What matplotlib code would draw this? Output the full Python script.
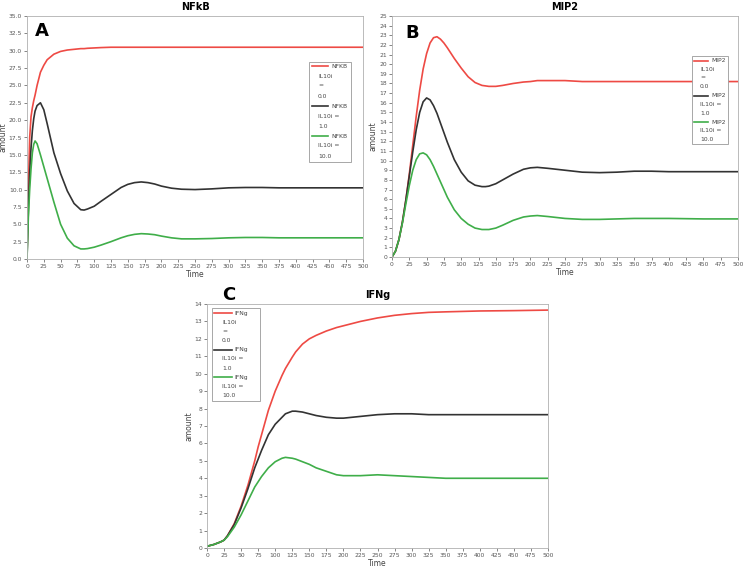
import matplotlib
matplotlib.use("Agg")
import matplotlib.pyplot as plt
from matplotlib.lines import Line2D
from matplotlib.patches import Rectangle
from matplotlib.ticker import MultipleLocator, FormatStrFormatter

# ---------------- data ----------------
series_labels = ["IL10i = 0.0", "IL10i = 1.0", "IL10i = 10.0"]
legend_wrapped = [["IL10i", "=", "0.0"], ["IL10i =", "1.0"], ["IL10i =", "10.0"]]

# Panel A: NFkB
tA = [0, 2, 4, 6, 8, 10, 12, 15, 20, 25, 30, 40, 50, 60, 70, 80, 85, 90, 100, 110,
      125, 140, 150, 160, 170, 180, 190, 200, 215, 230, 250, 275, 300, 325, 350,
      375, 400, 450, 500]
nfkb_0 = [0, 10, 17.5, 20.5, 21.8, 22.8, 23.6, 25.0, 26.9, 27.9, 28.7, 29.5, 29.9, 30.1,
          30.2, 30.3, 30.3, 30.35, 30.4, 30.45, 30.5, 30.5, 30.5, 30.5, 30.5, 30.5, 30.5,
          30.5, 30.5, 30.5, 30.5, 30.5, 30.5, 30.5, 30.5, 30.5, 30.5, 30.5, 30.5]
nfkb_1 = [0, 7, 12.5, 16.0, 18.5, 20.2, 21.3, 22.1, 22.5, 21.5, 19.5, 15.3, 12.3, 9.8,
          8.0, 7.1, 7.05, 7.2, 7.6, 8.3, 9.3, 10.3, 10.75, 11.0, 11.1, 11.0, 10.8, 10.5,
          10.2, 10.05, 10.0, 10.1, 10.25, 10.3, 10.3, 10.25, 10.25, 10.25, 10.25]
nfkb_10 = [0, 6, 10, 13, 15.3, 16.5, 17.0, 16.6, 15.0, 13.3, 11.6, 8.2, 5.0, 3.0,
           1.9, 1.45, 1.45, 1.5, 1.7, 2.0, 2.5, 3.05, 3.35, 3.55, 3.65, 3.6, 3.5, 3.3,
           3.05, 2.9, 2.9, 2.95, 3.05, 3.1, 3.1, 3.05, 3.05, 3.05, 3.05]

# Panel B: MIP2
tB = [0, 5, 10, 15, 20, 25, 30, 35, 40, 45, 50, 55, 60, 65, 70, 75, 80, 90, 100, 110,
      120, 130, 135, 140, 150, 160, 175, 190, 200, 210, 225, 250, 275, 300, 325, 350,
      375, 400, 450, 500]
mip2_0 = [0, 0.6, 1.8, 3.6, 5.9, 8.6, 11.6, 14.6, 17.3, 19.5, 21.1, 22.2, 22.75, 22.85,
          22.6, 22.2, 21.7, 20.6, 19.6, 18.7, 18.1, 17.8, 17.75, 17.7, 17.7, 17.8, 18.0,
          18.15, 18.2, 18.3, 18.3, 18.3, 18.2, 18.2, 18.2, 18.2, 18.2, 18.2, 18.2, 18.2]
mip2_1 = [0, 0.6, 1.8, 3.6, 5.9, 8.4, 10.9, 13.2, 15.0, 16.1, 16.5, 16.3, 15.7, 14.9,
          13.9, 12.9, 11.9, 10.1, 8.8, 7.9, 7.45, 7.3, 7.3, 7.35, 7.6, 8.0, 8.6, 9.1,
          9.25, 9.3, 9.2, 9.0, 8.8, 8.75, 8.8, 8.9, 8.9, 8.85, 8.85, 8.85]
mip2_10 = [0, 0.6, 1.8, 3.5, 5.5, 7.4, 9.0, 10.1, 10.7, 10.8, 10.6, 10.1, 9.4, 8.6, 7.8,
           7.0, 6.2, 4.9, 4.0, 3.4, 3.0, 2.85, 2.85, 2.85, 3.0, 3.3, 3.8, 4.15, 4.25,
           4.3, 4.2, 4.0, 3.9, 3.9, 3.95, 4.0, 4.0, 4.0, 3.95, 3.95]

# Panel C: IFNg
tC = [0, 10, 20, 25, 30, 40, 50, 60, 70, 75, 80, 90, 100, 110, 115, 125, 130, 140, 150,
      160, 175, 190, 200, 225, 250, 275, 300, 325, 350, 400, 450, 500]
ifng_0 = [0.1, 0.2, 0.35, 0.45, 0.7, 1.4, 2.4, 3.6, 5.0, 5.8, 6.5, 7.9, 9.0, 9.9, 10.3,
          10.95, 11.25, 11.7, 12.0, 12.2, 12.45, 12.65, 12.75, 13.0, 13.2, 13.35, 13.45,
          13.52, 13.55, 13.6, 13.62, 13.65]
ifng_1 = [0.1, 0.2, 0.35, 0.45, 0.7, 1.35, 2.3, 3.4, 4.6, 5.1, 5.6, 6.5, 7.1, 7.5, 7.7,
          7.85, 7.85, 7.8, 7.7, 7.6, 7.5, 7.45, 7.45, 7.55, 7.65, 7.7, 7.7, 7.65, 7.65,
          7.65, 7.65, 7.65]
ifng_10 = [0.1, 0.2, 0.35, 0.45, 0.65, 1.2, 1.9, 2.7, 3.5, 3.8, 4.1, 4.6, 4.95, 5.15,
           5.2, 5.15, 5.1, 4.95, 4.8, 4.6, 4.4, 4.2, 4.15, 4.15, 4.2, 4.15, 4.1, 4.05,
           4.0, 4.0, 4.0, 4.0]

colors = ["#ee4a44", "#333333", "#3fae49"]

W, H = 746, 569
fig = plt.figure(figsize=(W / 100, H / 100), dpi=100)
fig.patch.set_facecolor("white")


def px_axes(x0, y0, x1, y1):
    return fig.add_axes([x0 / W, 1 - y1 / H, (x1 - x0) / W, (y1 - y0) / H])


def style_axes(ax, title, ymax, ystep, fmt, ylab_x):
    ax.set_xlim(0, 500)
    ax.set_ylim(0, ymax)
    ax.xaxis.set_major_locator(MultipleLocator(25))
    ax.yaxis.set_major_locator(MultipleLocator(ystep))
    ax.yaxis.set_major_formatter(FormatStrFormatter(fmt))
    ax.tick_params(labelsize=4.3, colors="#555555", length=2, width=0.5, pad=1.5)
    for s in ax.spines.values():
        s.set_color("#b0b0b0")
        s.set_linewidth(0.6)
    ax.set_title(title, fontsize=7, fontweight="bold", pad=4)
    ax.set_xlabel("Time", fontsize=5.5, color="#444444", labelpad=1)
    ax.set_ylabel("amount", fontsize=5.5, color="#444444")
    ax.yaxis.set_label_coords(ylab_x, 0.5)


def legend_box(name, bx0, by0, bx1, by1, lx0, lx1, namex, subx, row0, dy):
    fig.add_artist(Rectangle((bx0 / W, 1 - by1 / H), (bx1 - bx0) / W, (by1 - by0) / H,
                             transform=fig.transFigure, facecolor="white",
                             edgecolor="#999999", linewidth=0.6))
    row = 0
    for c, sub in zip(colors, legend_wrapped):
        y = row0 + row * dy
        fig.add_artist(Line2D([lx0 / W, lx1 / W], [1 - y / H, 1 - y / H],
                              transform=fig.transFigure, color=c, linewidth=1.2))
        fig.text(namex / W, 1 - y / H, name, fontsize=4.3, color="#444444",
                 va="center", ha="left")
        row += 1
        for s in sub:
            y = row0 + row * dy
            fig.text(subx / W, 1 - y / H, s, fontsize=4.3, color="#444444",
                     va="center", ha="left")
            row += 1


# Panel A
axA = px_axes(27, 16, 363, 259)
for yv, c in zip([nfkb_0, nfkb_1, nfkb_10], colors):
    axA.plot(tA, yv, color=c, linewidth=1.2)
style_axes(axA, "NFkB", 35, 2.5, "%.1f", -0.058)
fig.text(35 / W, 1 - 36 / H, "A", fontsize=13, fontweight="bold")
legend_box("NFKB", 309, 62, 351, 162, 312, 328, 331, 318, 66, 10)

# Panel B
axB = px_axes(392, 16, 738, 257)
for yv, c in zip([mip2_0, mip2_1, mip2_10], colors):
    axB.plot(tB, yv, color=c, linewidth=1.2)
style_axes(axB, "MIP2", 25, 1, "%d", -0.043)
fig.text(405 / W, 1 - 38 / H, "B", fontsize=13, fontweight="bold")
legend_box("MIP2", 692, 56, 728, 144, 694, 708, 711, 700, 60.5, 8.8)

# Panel C
axC = px_axes(207, 304, 548, 548)
for yv, c in zip([ifng_0, ifng_1, ifng_10], colors):
    axC.plot(tC, yv, color=c, linewidth=1.2)
style_axes(axC, "IFNg", 14, 1, "%d", -0.04)
fig.text(222 / W, 1 - 300 / H, "C", fontsize=13, fontweight="bold")
legend_box("IFNg", 212, 308, 260, 401, 214, 232, 234, 222, 313, 9.2)

fig.savefig("out.png", dpi=100, facecolor="white")
